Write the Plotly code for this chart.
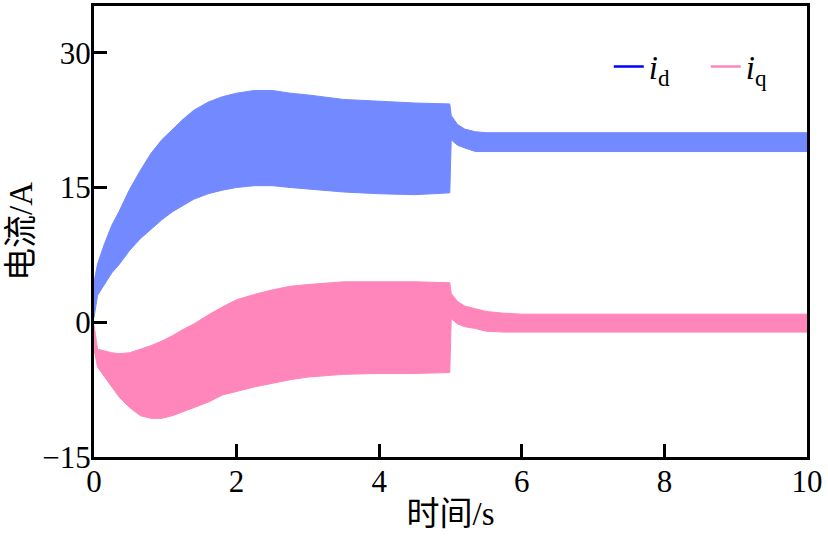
import plotly.graph_objects as go

# Envelope of the oscillating currents
t = [0, 0.05, 0.15, 0.25, 0.35, 0.5, 0.65, 0.8, 0.95, 1.1, 1.25, 1.4, 1.6, 1.8,
     2.0, 2.25, 2.5, 2.75, 3.0, 3.5, 4.0, 4.5, 4.99, 5.01, 5.1, 5.2, 5.35, 5.5,
     5.75, 6, 7, 8, 9, 10]
id_upper = [4.5, 6.5, 8.8, 10.8, 12.3, 14.8, 16.9, 18.8, 20.3, 21.5, 22.6, 23.6,
            24.5, 25.1, 25.5, 25.8, 25.8, 25.5, 25.3, 24.8, 24.6, 24.4, 24.3,
            23.0, 22.0, 21.5, 21.2, 21.1, 21.1, 21.1, 21.1, 21.1, 21.1, 21.1]
id_lower = [0.5, 3.0, 4.3, 5.5, 6.4, 8.0, 9.3, 10.3, 11.4, 12.3, 13.0, 13.7,
            14.3, 14.7, 15.0, 15.2, 15.2, 15.0, 14.8, 14.5, 14.3, 14.2, 14.4,
            20.3, 19.7, 19.4, 19.0, 19.0, 19.0, 19.0, 19.0, 19.0, 19.0, 19.0]
iq_upper = [-0.3, -3.0, -3.2, -3.4, -3.5, -3.4, -3.0, -2.6, -2.1, -1.5, -0.8,
            -0.2, 0.8, 1.7, 2.5, 3.1, 3.6, 4.0, 4.2, 4.5, 4.5, 4.5, 4.4,
            3.2, 2.3, 1.8, 1.5, 1.2, 1.0, 0.9, 0.9, 0.9, 0.9, 0.9]
iq_lower = [-3.0, -5.0, -6.0, -7.2, -8.3, -9.5, -10.4, -10.7, -10.7, -10.4,
            -10.0, -9.5, -8.9, -8.1, -7.7, -7.2, -6.8, -6.4, -6.1, -5.8, -5.7,
            -5.7, -5.6, 0.4, -0.2, -0.5, -0.7, -1.0, -1.1, -1.1, -1.1, -1.1,
            -1.1, -1.1]

x_ticks = [0, 2, 4, 6, 8, 10]
y_ticks = [-15, 0, 15, 30]
y_tick_text = ["\u221215", "0", "15", "30"]

FILL_D = "#7389ff"
FILL_Q = "#ff86ba"
LINE_D = "#0000ff"
LINE_Q = "#ff86ba"
FONT = "'Liberation Serif', 'Times New Roman', 'Noto Sans CJK SC', serif"

fig = go.Figure()

def band(tt, up, lo, color):
    return go.Scatter(x=list(tt) + list(tt[::-1]), y=list(up) + list(lo[::-1]),
                      fill="toself", fillcolor=color, mode="lines",
                      line=dict(color=color, width=1), showlegend=False,
                      hoverinfo="skip")

fig.add_trace(band(t, id_upper, id_lower, FILL_D))
fig.add_trace(band(t, iq_upper, iq_lower, FILL_Q))

fig.add_trace(go.Scatter(x=[None], y=[None], mode="lines",
                         line=dict(color=LINE_D, width=2.5),
                         name="<i>i</i><sub>d</sub>"))
fig.add_trace(go.Scatter(x=[None], y=[None], mode="lines",
                         line=dict(color=LINE_Q, width=2.5),
                         name="<i>i</i><sub>q</sub>"))

axis_common = dict(showgrid=False, zeroline=False, showline=True,
                   linecolor="black", linewidth=3, mirror=True,
                   ticks="inside", ticklen=13, tickwidth=3, tickcolor="black",
                   tickfont=dict(family=FONT, size=31, color="black"))

fig.update_xaxes(range=[0, 10], tickvals=x_ticks,
                 ticktext=[str(v) for v in x_ticks], ticklabelstandoff=-5,
                 title=dict(text="时间/s", standoff=4,
                            font=dict(family=FONT, size=33, color="black")),
                 **axis_common)
fig.update_yaxes(range=[-15, 35.2], tickvals=y_ticks,
                 ticktext=y_tick_text, ticklabelstandoff=-6,
                 title=dict(text="电流/A", standoff=0,
                            font=dict(family=FONT, size=33, color="black")),
                 **axis_common)

fig.update_layout(
    width=828, height=536,
    margin=dict(l=94, r=21, t=3, b=79),
    paper_bgcolor="white", plot_bgcolor="white",
    legend=dict(orientation="h", x=0.722, xanchor="left", y=0.866,
                yanchor="middle", bgcolor="rgba(0,0,0,0)",
                font=dict(family=FONT, size=33, color="black"),
                itemwidth=30, entrywidth=52, tracegroupgap=0),
)

fig.write_html("out.html")
